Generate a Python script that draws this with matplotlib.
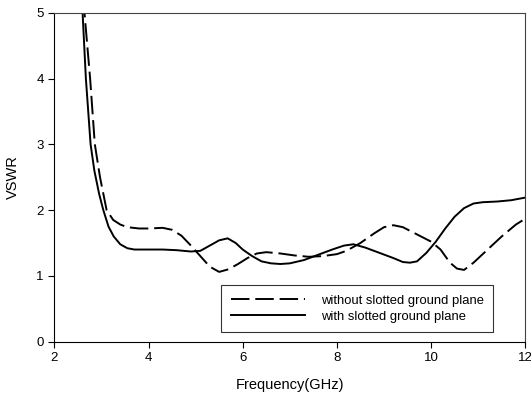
import matplotlib
matplotlib.use('Agg')
import matplotlib.pyplot as plt

plt.rcParams['font.family'] = ['Liberation Sans', 'DejaVu Sans']

# with slotted ground plane (solid)
freq_with = [2.55, 2.6, 2.67, 2.77, 2.85, 2.95, 3.04, 3.15, 3.26, 3.4, 3.55, 3.7,
             4.0, 4.3, 4.6, 4.9, 5.1, 5.3, 5.5, 5.68, 5.85, 6.0, 6.2, 6.4, 6.6,
             6.8, 7.0, 7.3, 7.6, 7.9, 8.15, 8.35, 8.6, 8.9, 9.2, 9.4, 9.55, 9.7,
             9.9, 10.1, 10.3, 10.5, 10.7, 10.9, 11.1, 11.4, 11.7, 12.0]
vswr_with = [5.3, 5.0, 4.0, 3.0, 2.6, 2.25, 2.0, 1.75, 1.6, 1.48, 1.42, 1.40,
             1.40, 1.40, 1.39, 1.37, 1.38, 1.46, 1.54, 1.57, 1.50, 1.40, 1.30, 1.22, 1.19,
             1.18, 1.19, 1.24, 1.32, 1.40, 1.46, 1.48, 1.43, 1.35, 1.27, 1.21, 1.20, 1.22,
             1.35, 1.52, 1.72, 1.90, 2.03, 2.10, 2.12, 2.13, 2.15, 2.19]

# without slotted ground plane (dashed)
freq_without = [2.6, 2.64, 2.76, 2.86, 2.97, 3.11, 3.25, 3.4, 3.55, 3.8, 4.0, 4.3,
                4.5, 4.7, 4.9, 5.1, 5.3, 5.5, 5.7, 5.9, 6.1, 6.3, 6.5, 6.8, 7.1,
                7.4, 7.7, 8.0, 8.2, 8.5, 8.8, 9.0, 9.2, 9.4, 9.7, 10.0, 10.2, 10.4,
                10.55, 10.7, 10.9, 11.2, 11.5, 11.8, 12.0]
vswr_without = [5.3, 5.0, 4.0, 3.0, 2.5, 2.0, 1.85, 1.78, 1.74, 1.72, 1.72, 1.73,
                1.70, 1.61, 1.46, 1.30, 1.14, 1.06, 1.10, 1.18, 1.27, 1.34, 1.36, 1.34, 1.31,
                1.29, 1.30, 1.33, 1.38, 1.50, 1.65, 1.74, 1.77, 1.74, 1.63, 1.52, 1.40, 1.20,
                1.11, 1.09, 1.20, 1.40, 1.60, 1.78, 1.87]

fig = plt.figure(figsize=(5.31, 4.0), dpi=100)
ax = fig.add_axes([0.1023, 0.146, 0.887, 0.822])

ax.plot(freq_without, vswr_without, color='black', lw=1.4, dashes=(9.5, 3),
        label='without slotted ground plane')
ax.plot(freq_with, vswr_with, color='black', lw=1.4,
        label='with slotted ground plane')

ax.set_xlim(2, 12)
ax.set_ylim(0, 5)
ax.set_xticks([2, 4, 6, 8, 10, 12])
ax.set_yticks([0, 1, 2, 3, 4, 5])
ax.tick_params(direction='out', length=4, width=0.8, labelsize=9.5,
               top=False, right=False)
for s in ['top', 'right']:
    ax.spines[s].set_color('#444444')
ax.set_xlabel('Frequency(GHz)', fontsize=10.5, labelpad=10)
ax.set_ylabel('VSWR', fontsize=10.5, labelpad=12)

leg = ax.legend(loc='lower right', bbox_to_anchor=(0.931, 0.0295), fontsize=9.4,
                frameon=True, fancybox=False, handlelength=5.7,
                handletextpad=1.2, borderpad=0.7, borderaxespad=0,
                labelspacing=0.3)
leg.get_frame().set_edgecolor('black')
leg.get_frame().set_linewidth(0.8)

fig.savefig('out.png', dpi=100)
